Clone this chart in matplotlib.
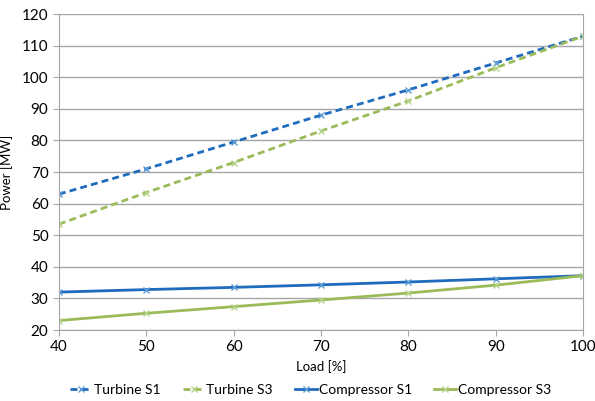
import numpy as np
import matplotlib.pyplot as plt

plt.rcParams['font.family'] = ['Lato', 'DejaVu Sans']

load = [40, 50, 60, 70, 80, 90, 100]
turbine_s1 = [63, 71, 79.5, 88, 96, 104.5, 113]
turbine_s3 = [53.5, 63.5, 73, 83, 92.5, 103, 113]
compressor_s1 = [32, 32.8, 33.5, 34.3, 35.2, 36.2, 37.2]
compressor_s3 = [23, 25.3, 27.4, 29.5, 31.7, 34.2, 37.2]

blue = "#1f6bbd"
green = "#9bbb59"

fig = plt.figure(figsize=(5.95, 4.01), dpi=100)
ax = fig.add_axes([0.099, 0.177, 0.881, 0.788])

ax.plot(load, turbine_s1, color=blue, ls=(0, (2.5, 1.5)), lw=2, marker="x", ms=4,
        mec="#5b9bd5", mew=1, label="Turbine S1")
ax.plot(load, turbine_s3, color=green, ls=(0, (2.5, 1.5)), lw=2, marker="x", ms=4,
        mec="#b5d48a", mew=1, label="Turbine S3")
ax.plot(load, compressor_s1, color=blue, lw=2, marker="x", ms=4,
        mec="#5b9bd5", mew=1, label="Compressor S1")
ax.plot(load, compressor_s3, color=green, lw=2, marker="x", ms=4,
        mec="#b5d48a", mew=1, label="Compressor S3")

ax.set_xlim(40, 100)
ax.set_ylim(20, 120)
ax.set_xticks(np.arange(40, 101, 10))
ax.set_yticks(np.arange(20, 121, 10))
ax.grid(axis="y", color="#a6a6a6", lw=1)
ax.set_axisbelow(True)
ax.spines["top"].set_visible(False)
for s in ["left", "right", "bottom"]:
    ax.spines[s].set_color("#a6a6a6")
ax.tick_params(colors="#a6a6a6", labelcolor="black", labelsize=11, length=4)
ax.set_xlabel("Load [%]", fontsize=9.5, labelpad=4)
ax.set_ylabel("Power [MW]", fontsize=9.5, labelpad=6)

ax.legend(loc="upper center", bbox_to_anchor=(0.48, -0.13), ncol=4, frameon=False,
          fontsize=10, handlelength=1.6, columnspacing=1.6, handletextpad=0.1)

fig.savefig("out.png", dpi=100)
